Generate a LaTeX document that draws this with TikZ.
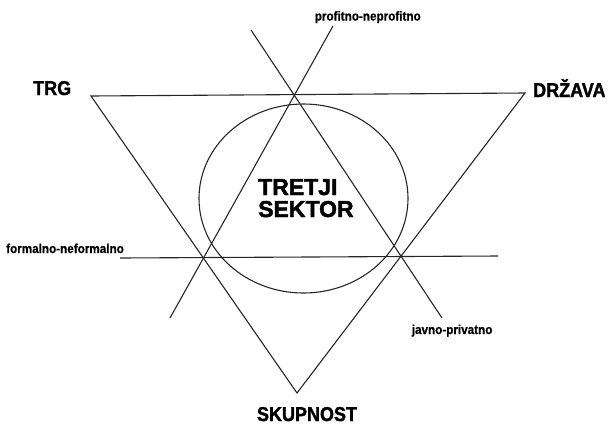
\documentclass[tikz,border=0pt]{standalone}
\usepackage{fontspec}
\setmainfont{Liberation Sans}
\newfontfamily\headfont{Liberation Sans Bold}[FakeStretch=0.9,FakeBold=1.5]
\newfontfamily\blackfont{Liberation Sans Bold}[FakeBold=2]
\newfontfamily\smallfont{Liberation Sans Bold}[FakeStretch=0.9,FakeBold=0.6]
\begin{document}
\begin{tikzpicture}[x=1pt,y=-1pt,
  ln/.style={draw=black!85,line width=1.1pt},
  headlbl/.style={inner sep=0pt,font=\headfont\fontsize{20}{20}\selectfont},
  centerlbl/.style={inner sep=0pt,font=\blackfont\fontsize{23}{23}\selectfont},
  axislbl/.style={inner sep=0pt,font=\smallfont\fontsize{13}{13}\selectfont}]
\useasboundingbox (0,0) rectangle (609,424);
% triangle corners
\coordinate (tl) at (91,96);
\coordinate (tr) at (525,93);
\coordinate (bt) at (297,393);
% axis line ends
\coordinate (p1) at (170,318);
\coordinate (p2) at (333,26);
\coordinate (j1) at (251,30);
\coordinate (j2) at (442,318);
\coordinate (f1) at (120,258);
\coordinate (f2) at (498,256);
\coordinate (ec) at (303.5,198.5);
% shapes
\draw[ln] (tl) -- (tr) -- (bt) -- cycle;
\draw[ln] (p1) -- (p2);
\draw[ln] (j1) -- (j2);
\draw[ln] (f1) -- (f2);
\draw[ln] (ec) ellipse [x radius=104.5pt, y radius=94.5pt];
% labels
\node[headlbl,anchor=base west] (trg) at (33,95) {TRG};
\node[headlbl,anchor=base west] (drz) at (533,97) {DRŽAVA};
\node[headlbl,anchor=base] (sku) at (307,421) {SKUPNOST};
\node[centerlbl,anchor=base west] (tre) at (258,195) {TRETJI};
\node[centerlbl,anchor=base west] (sek) at (258,217) {SEKTOR};
\node[axislbl,anchor=base west] (prof) at (314.6,20.5) {profitno-neprofitno};
\node[axislbl,anchor=base west] (form) at (6,253) {formalno-neformalno};
\node[axislbl,anchor=base west] (javn) at (411.6,334) {javno-privatno};
\end{tikzpicture}
\end{document}
